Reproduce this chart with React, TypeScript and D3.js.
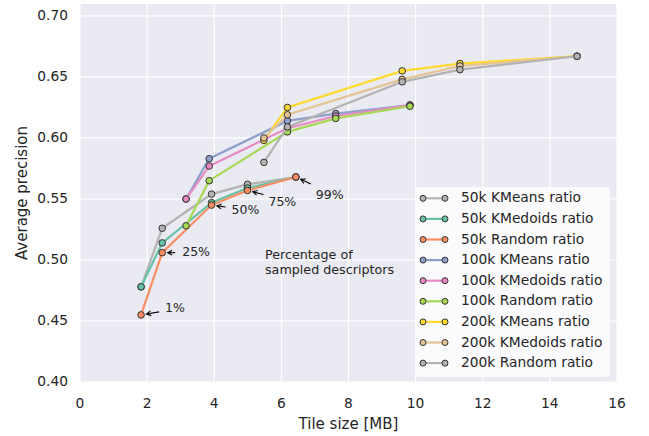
import React from "react";
import * as d3 from "d3";

// tile sizes (MB) per dictionary size
const sizes50k = [1.82, 2.45, 3.92, 4.99, 6.43];
const sizes100k = [3.16, 3.85, 6.18, 7.62, 9.83];
const sizes200k = [5.48, 6.18, 9.6, 11.32, 14.81];

// average precision per series
const ap50kKMeans = [0.478, 0.526, 0.554, 0.562, 0.568];
const ap50kKMedoids = [0.478, 0.514, 0.547, 0.559, 0.568];
const ap50kRandom = [0.455, 0.506, 0.545, 0.557, 0.568];
const ap100kKMeans = [0.55, 0.583, 0.614, 0.62, 0.627];
const ap100kKMedoids = [0.55, 0.577, 0.608, 0.618, 0.627];
const ap100kRandom = [0.528, 0.565, 0.605, 0.616, 0.626];
const ap200kKMeans = [0.598, 0.625, 0.655, 0.661, 0.667];
const ap200kKMedoids = [0.6, 0.619, 0.648, 0.659, 0.667];
const ap200kRandom = [0.58, 0.609, 0.646, 0.656, 0.667];

const seriesNames = [
  "50k KMeans ratio",
  "50k KMedoids ratio",
  "50k Random ratio",
  "100k KMeans ratio",
  "100k KMedoids ratio",
  "100k Random ratio",
  "200k KMeans ratio",
  "200k KMedoids ratio",
  "200k Random ratio",
];
const seriesX = [sizes50k, sizes50k, sizes50k, sizes100k, sizes100k, sizes100k, sizes200k, sizes200k, sizes200k];
const seriesY = [
  ap50kKMeans, ap50kKMedoids, ap50kRandom,
  ap100kKMeans, ap100kKMedoids, ap100kRandom,
  ap200kKMeans, ap200kKMedoids, ap200kRandom,
];
// Set2, starting on the grey
const colors = ["#b3b3b3", "#66c2a5", "#fc8d62", "#8da0cb", "#e78ac3", "#a6d854", "#ffd92f", "#e5c494", "#b3b3b3"];

const pctLabels = ["1%", "25%", "50%", "75%", "99%"];
const xTicks = [0, 2, 4, 6, 8, 10, 12, 14, 16];
const yTicks = [0.4, 0.45, 0.5, 0.55, 0.6, 0.65, 0.7];

// layout: text offset (left, middle) and arrow tail offset from the annotated point, px
const textOffsets = [[24, -6], [20, 0], [20, 5], [21, 12], [20, 18]];
const tailOffsets = [[18, -3], [13, 0], [14, 2], [16, 4], [15, 7]];

const W = 649;
const H = 436;
const FONT = "DejaVu Sans, sans-serif";

const App = () => {
  const svgRef = React.useRef<SVGSVGElement | null>(null);

  React.useEffect(() => {
    const svg = d3.select(svgRef.current);
    svg.selectAll("*").remove();

    const left = 80, right = 617, top = 4, bottom = 382;
    const x = d3.scaleLinear().domain([0, 16]).range([left, right]);
    const y = d3.scaleLinear().domain([0.4, 0.7098]).range([bottom, top]);

    svg.append("rect").attr("width", W).attr("height", H).attr("fill", "white");
    svg
      .append("rect")
      .attr("x", left)
      .attr("y", top)
      .attr("width", right - left)
      .attr("height", bottom - top)
      .attr("fill", "#eaeaf2");

    // grid
    svg
      .append("g")
      .selectAll("line")
      .data(xTicks)
      .join("line")
      .attr("x1", (d) => x(d))
      .attr("x2", (d) => x(d))
      .attr("y1", top)
      .attr("y2", bottom)
      .attr("stroke", "white")
      .attr("stroke-width", 1.2);
    svg
      .append("g")
      .selectAll("line")
      .data(yTicks)
      .join("line")
      .attr("x1", left)
      .attr("x2", right)
      .attr("y1", (d) => y(d))
      .attr("y2", (d) => y(d))
      .attr("stroke", "white")
      .attr("stroke-width", 1.2);

    // tick labels
    svg
      .append("g")
      .selectAll("text")
      .data(xTicks)
      .join("text")
      .attr("x", (d) => x(d))
      .attr("y", bottom + 22)
      .attr("text-anchor", "middle")
      .attr("dominant-baseline", "middle")
      .attr("font-family", FONT)
      .attr("font-size", 13.8)
      .attr("fill", "#262626")
      .text((d) => d3.format("d")(d));
    svg
      .append("g")
      .selectAll("text")
      .data(yTicks)
      .join("text")
      .attr("x", left - 12)
      .attr("y", (d) => y(d))
      .attr("text-anchor", "end")
      .attr("dominant-baseline", "middle")
      .attr("font-family", FONT)
      .attr("font-size", 13.8)
      .attr("fill", "#262626")
      .text((d) => d3.format(".2f")(d));

    // axis titles
    svg
      .append("text")
      .attr("x", (left + right) / 2)
      .attr("y", bottom + 42)
      .attr("text-anchor", "middle")
      .attr("dominant-baseline", "middle")
      .attr("font-family", FONT)
      .attr("font-size", 15)
      .attr("fill", "#262626")
      .text("Tile size [MB]");
    svg
      .append("text")
      .attr("transform", `translate(22, ${(top + bottom) / 2}) rotate(-90)`)
      .attr("text-anchor", "middle")
      .attr("dominant-baseline", "middle")
      .attr("font-family", FONT)
      .attr("font-size", 15)
      .attr("fill", "#262626")
      .text("Average precision");

    // series
    const line = d3
      .line<[number, number]>()
      .x((d) => x(d[0]))
      .y((d) => y(d[1]));
    seriesNames.forEach((name, i) => {
      const pts: [number, number][] = seriesX[i].map((v, j) => [v, seriesY[i][j]]);
      const g = svg.append("g").attr("class", "series");
      g.append("path")
        .attr("d", line(pts))
        .attr("fill", "none")
        .attr("stroke", colors[i])
        .attr("stroke-width", 2.2);
      g.selectAll("circle")
        .data(pts)
        .join("circle")
        .attr("cx", (d) => x(d[0]))
        .attr("cy", (d) => y(d[1]))
        .attr("r", 3.3)
        .attr("fill", colors[i])
        .attr("stroke", "#333")
        .attr("stroke-width", 1);
    });

    // percentage annotations on the 50k Random points
    const ann = svg.append("g");
    pctLabels.forEach((lab, i) => {
      const px = x(sizes50k[i]);
      const py = y(ap50kRandom[i]);
      const tx = px + tailOffsets[i][0];
      const ty = py + tailOffsets[i][1];
      const ang = Math.atan2(ty - py, tx - px);
      const hx = px + Math.cos(ang) * 5.5;
      const hy = py + Math.sin(ang) * 5.5;
      ann
        .append("line")
        .attr("x1", tx)
        .attr("y1", ty)
        .attr("x2", hx)
        .attr("y2", hy)
        .attr("stroke", "black")
        .attr("stroke-width", 1.1);
      const hl = 5;
      const a1 = ang + 0.5, a2 = ang - 0.5;
      ann
        .append("path")
        .attr(
          "d",
          `M${hx + Math.cos(a1) * hl},${hy + Math.sin(a1) * hl}L${hx},${hy}L${hx + Math.cos(a2) * hl},${hy + Math.sin(a2) * hl}`
        )
        .attr("fill", "none")
        .attr("stroke", "black")
        .attr("stroke-width", 1.1);
      ann
        .append("text")
        .attr("x", px + textOffsets[i][0])
        .attr("y", py + textOffsets[i][1])
        .attr("dominant-baseline", "middle")
        .attr("font-family", FONT)
        .attr("font-size", 12.5)
        .attr("fill", "#262626")
        .text(lab);
    });
    const note = svg
      .append("text")
      .attr("x", 265)
      .attr("font-family", FONT)
      .attr("font-size", 12.7)
      .attr("fill", "#262626");
    note.append("tspan").attr("x", 265).attr("y", 259).text("Percentage of");
    note.append("tspan").attr("x", 265).attr("y", 274).text("sampled descriptors");

    // legend
    const lg = svg.append("g").attr("transform", "translate(415, 187)");
    lg.append("rect")
      .attr("width", 195)
      .attr("height", 190)
      .attr("rx", 3)
      .attr("fill", "white")
      .attr("fill-opacity", 0.8);
    const rowH = 20.6;
    seriesNames.forEach((name, i) => {
      const ry = 11.3 + i * rowH;
      lg.append("line")
        .attr("x1", 8)
        .attr("x2", 30)
        .attr("y1", ry)
        .attr("y2", ry)
        .attr("stroke", colors[i])
        .attr("stroke-width", 2.2);
      [8, 30].forEach((cx) => {
        lg.append("circle")
          .attr("cx", cx)
          .attr("cy", ry)
          .attr("r", 3)
          .attr("fill", colors[i])
          .attr("stroke", "#333")
          .attr("stroke-width", 1);
      });
      lg.append("text")
        .attr("x", 46)
        .attr("y", ry)
        .attr("dominant-baseline", "middle")
        .attr("font-family", FONT)
        .attr("font-size", 13.8)
        .attr("fill", "#262626")
        .text(name);
    });
  }, []);

  return <svg ref={svgRef} width={W} height={H} style={{ position: "absolute", left: 0, top: 0 }} />;
};

export default App;
